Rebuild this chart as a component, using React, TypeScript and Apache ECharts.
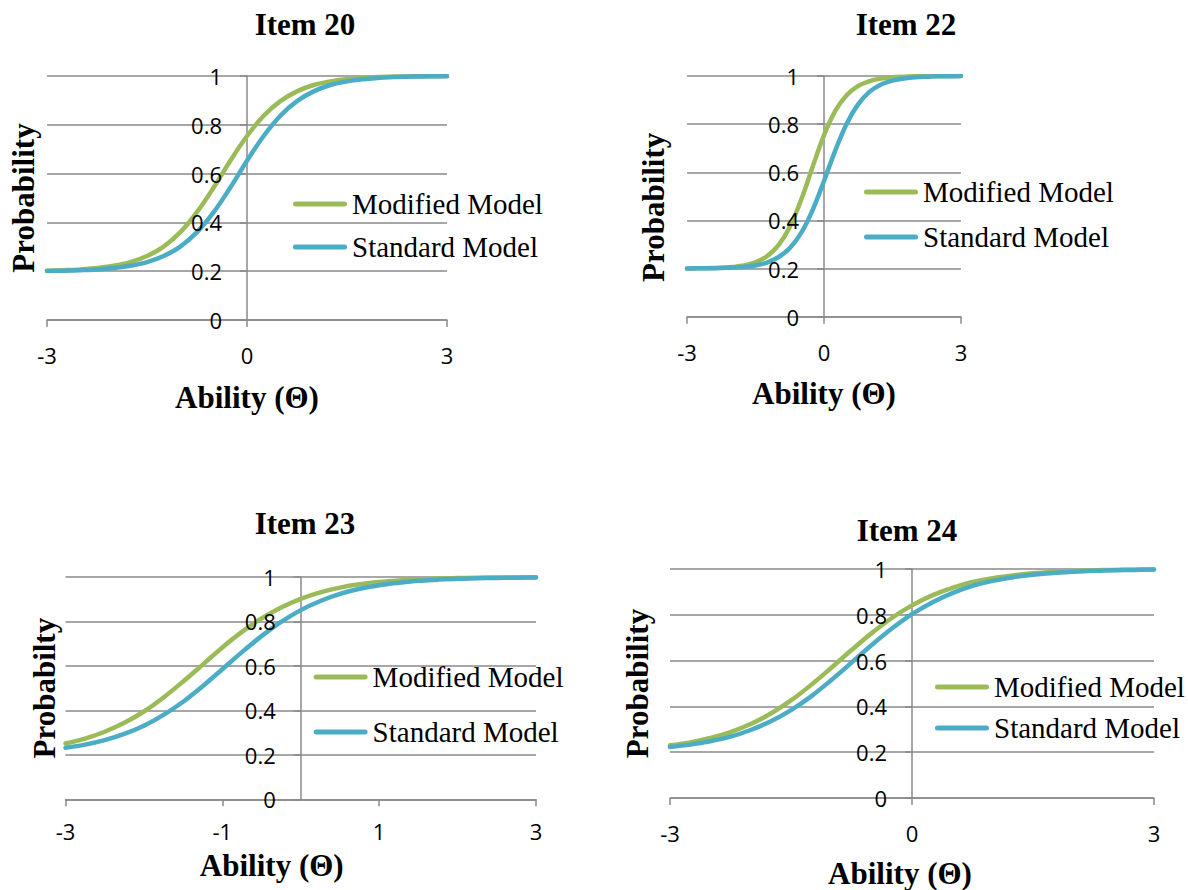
import React, { useEffect, useRef } from "react";
import * as echarts from "echarts";

// Ability levels (theta) at which the item characteristic curves are sampled
const THETA = [-3, -2.75, -2.5, -2.25, -2, -1.75, -1.5, -1.25, -1, -0.75, -0.5, -0.25, 0, 0.25, 0.5, 0.75, 1, 1.25, 1.5, 1.75, 2, 2.25, 2.5, 2.75, 3];

// Probability of a correct response, per item and model
const ITEM20_MODIFIED = [0.202, 0.204, 0.207, 0.213, 0.222, 0.237, 0.262, 0.301, 0.360, 0.442, 0.543, 0.653, 0.754, 0.837, 0.897, 0.937, 0.963, 0.978, 0.987, 0.993, 0.996, 0.998, 0.999, 0.999, 1.0];
const ITEM20_STANDARD = [0.201, 0.202, 0.204, 0.207, 0.213, 0.222, 0.237, 0.262, 0.301, 0.360, 0.442, 0.543, 0.653, 0.754, 0.837, 0.897, 0.937, 0.963, 0.978, 0.987, 0.993, 0.996, 0.998, 0.999, 0.999];

const ITEM22_MODIFIED = [0.200, 0.201, 0.202, 0.203, 0.207, 0.213, 0.226, 0.251, 0.296, 0.373, 0.486, 0.622, 0.754, 0.856, 0.921, 0.959, 0.979, 0.989, 0.995, 0.997, 0.999, 0.999, 1.0, 1.0, 1.0];
const ITEM22_STANDARD = [0.200, 0.201, 0.201, 0.202, 0.204, 0.207, 0.213, 0.225, 0.247, 0.285, 0.348, 0.443, 0.564, 0.692, 0.803, 0.883, 0.935, 0.965, 0.981, 0.990, 0.995, 0.997, 0.999, 0.999, 1.0];

const ITEM23_MODIFIED = [0.251, 0.273, 0.304, 0.344, 0.395, 0.458, 0.530, 0.606, 0.683, 0.753, 0.814, 0.863, 0.902, 0.931, 0.952, 0.967, 0.977, 0.984, 0.989, 0.993, 0.995, 0.997, 0.998, 0.998, 0.999];
const ITEM23_STANDARD = [0.232, 0.246, 0.266, 0.294, 0.331, 0.380, 0.439, 0.509, 0.585, 0.662, 0.734, 0.798, 0.851, 0.892, 0.924, 0.947, 0.963, 0.974, 0.983, 0.988, 0.992, 0.994, 0.996, 0.997, 0.998];

const ITEM24_MODIFIED = [0.230, 0.243, 0.262, 0.288, 0.323, 0.369, 0.426, 0.494, 0.569, 0.646, 0.720, 0.786, 0.841, 0.885, 0.918, 0.943, 0.960, 0.972, 0.981, 0.987, 0.991, 0.994, 0.996, 0.997, 0.998];
const ITEM24_STANDARD = [0.223, 0.233, 0.248, 0.268, 0.297, 0.335, 0.384, 0.444, 0.515, 0.591, 0.668, 0.740, 0.803, 0.854, 0.895, 0.926, 0.948, 0.964, 0.975, 0.983, 0.988, 0.992, 0.995, 0.996, 0.998];

const SERIES_NAMES = ["Modified Model", "Standard Model"];
const PANEL_TITLES = ["Item 20", "Item 22", "Item 23", "Item 24"];
const Y_AXIS_TITLES = ["Probability", "Probability", "Probabilty", "Probability"];
const X_AXIS_TITLE = "Ability (\u0398)";
const X_TICK_STEPS = [3, 3, 2, 3];
const Y_TICK_STEP = 0.2;

const PANEL_VALUES = [
  [ITEM20_MODIFIED, ITEM20_STANDARD],
  [ITEM22_MODIFIED, ITEM22_STANDARD],
  [ITEM23_MODIFIED, ITEM23_STANDARD],
  [ITEM24_MODIFIED, ITEM24_STANDARD],
];

const COLORS = ["#9BBB59", "#4BACC6"];
const AXIS_GRAY = "#8a8a8a";
const SERIF = "'Times New Roman', 'Liberation Serif', serif";
const SANS = "'Open Sans', 'Noto Sans', sans-serif";

// Placement of each of the four small charts on the page
const PANELS = [
  { left: 47, top: 76, width: 400, height: 244, titleX: 305, titleY: 9, legendLeft: 293, legendTop: 189.5, legendGap: 14, xLabelMargin: 24, xNameGap: 62, xNamePad: 0, yNameGap: 208, yNamePad: 0 },
  { left: 687, top: 76, width: 274, height: 240.7, titleX: 906, titleY: 9, legendLeft: 864, legendTop: 177.5, legendGap: 16, xLabelMargin: 24, xNameGap: 61, xNamePad: 0, yNameGap: 155, yNamePad: 22 },
  { left: 65.5, top: 577, width: 470.5, height: 222.3, titleX: 305, titleY: 508, legendLeft: 313.6, legendTop: 662.5, legendGap: 26, xLabelMargin: 21, xNameGap: 51, xNamePad: 58, yNameGap: 241, yNamePad: 0 },
  { left: 670, top: 569, width: 484, height: 232.7, titleX: 907, titleY: 515, legendLeft: 935, legendTop: 672.5, legendGap: 12, xLabelMargin: 24, xNameGap: 60, xNamePad: 24, yNameGap: 259, yNamePad: 0 },
];

const LEGEND_ICON = "path://M2.5,0 L51.5,0 A2.5,2.5 0 0 1 51.5,5 L2.5,5 A2.5,2.5 0 0 1 2.5,0 Z";

function buildOption(): echarts.EChartsOption {
  const grid: any[] = [];
  const xAxis: any[] = [];
  const yAxis: any[] = [];
  const series: any[] = [];
  const title: any[] = [];
  const legend: any[] = [];

  PANELS.forEach((p, i) => {
    grid.push({ left: p.left, top: p.top, width: p.width, height: p.height, containLabel: false });

    title.push({
      text: PANEL_TITLES[i],
      left: p.titleX,
      top: p.titleY,
      textAlign: "center",
      padding: 0,
      textStyle: { fontFamily: SERIF, fontWeight: "bold", fontSize: 31, color: "#000" },
    });

    xAxis.push({
      type: "value",
      gridIndex: i,
      min: -3,
      max: 3,
      interval: X_TICK_STEPS[i],
      name: X_AXIS_TITLE,
      nameLocation: "middle",
      nameGap: p.xNameGap,
      nameTextStyle: {
        fontFamily: SERIF,
        fontWeight: "bold",
        fontSize: 31,
        color: "#000",
        padding: [0, p.xNamePad, 0, 0],
      },
      axisLine: { show: true, lineStyle: { color: AXIS_GRAY, width: 1.5 } },
      axisTick: { show: true, length: 7, lineStyle: { color: AXIS_GRAY, width: 1.5 } },
      axisLabel: { show: true, margin: p.xLabelMargin, fontFamily: SANS, fontSize: 22, color: "#000" },
      splitLine: { show: false },
    });

    // Main value axis: gridlines plus the vertical axis line at theta = 0
    yAxis.push({
      type: "value",
      gridIndex: i,
      min: 0,
      max: 1,
      interval: Y_TICK_STEP,
      axisLine: { show: true, onZero: true, lineStyle: { color: AXIS_GRAY, width: 1.5 } },
      axisTick: { show: true, length: 7, lineStyle: { color: AXIS_GRAY, width: 1.5 } },
      axisLabel: { show: false },
      splitLine: { show: true, lineStyle: { color: AXIS_GRAY, width: 1.5 } },
      z: 0,
    });

    // Label-only companion axis so the tick values sit above the curves
    yAxis.push({
      type: "value",
      gridIndex: i,
      min: 0,
      max: 1,
      interval: Y_TICK_STEP,
      position: "left",
      offset: -p.width / 2,
      name: Y_AXIS_TITLES[i],
      nameLocation: "middle",
      nameGap: p.yNameGap,
      nameTextStyle: {
        fontFamily: SERIF,
        fontWeight: "bold",
        fontSize: 31,
        color: "#000",
        padding: [0, p.yNamePad, 0, 0],
      },
      axisLine: { show: false, onZero: false },
      axisTick: { show: false },
      axisLabel: { show: true, margin: 25, fontFamily: SANS, fontSize: 22, color: "#000" },
      splitLine: { show: false },
      z: 5,
    });

    PANEL_VALUES[i].forEach((values, s) => {
      series.push({
        type: "line",
        name: SERIES_NAMES[s],
        xAxisIndex: i,
        yAxisIndex: i * 2,
        data: THETA.map((t, k) => [t, values[k]]),
        smooth: 0.35,
        showSymbol: false,
        symbol: "none",
        lineStyle: { color: COLORS[s], width: 4.5, cap: "round", join: "round" },
        itemStyle: { color: COLORS[s] },
        z: 2,
      });
    });

    legend.push({
      data: SERIES_NAMES.map((n) => ({ name: n, icon: LEGEND_ICON })),
      orient: "vertical",
      left: p.legendLeft,
      top: p.legendTop,
      padding: 0,
      itemGap: p.legendGap,
      itemWidth: 54,
      itemHeight: 5,
      selectedMode: false,
      textStyle: { fontFamily: SERIF, fontSize: 29, color: "#000", padding: [0, 0, 0, 0] },
    });
  });

  return {
    animation: false,
    backgroundColor: "#ffffff",
    color: COLORS,
    title,
    legend,
    grid,
    xAxis,
    yAxis,
    series,
  };
}

export default function App() {
  const ref = useRef<HTMLDivElement>(null);

  useEffect(() => {
    if (!ref.current) return;
    const chart = echarts.init(ref.current, undefined, { renderer: "svg" });
    chart.setOption(buildOption());
    return () => chart.dispose();
  }, []);

  return (
    <div
      ref={ref}
      style={{ position: "absolute", left: 0, top: 0, width: 1188, height: 890, background: "#fff" }}
    />
  );
}
